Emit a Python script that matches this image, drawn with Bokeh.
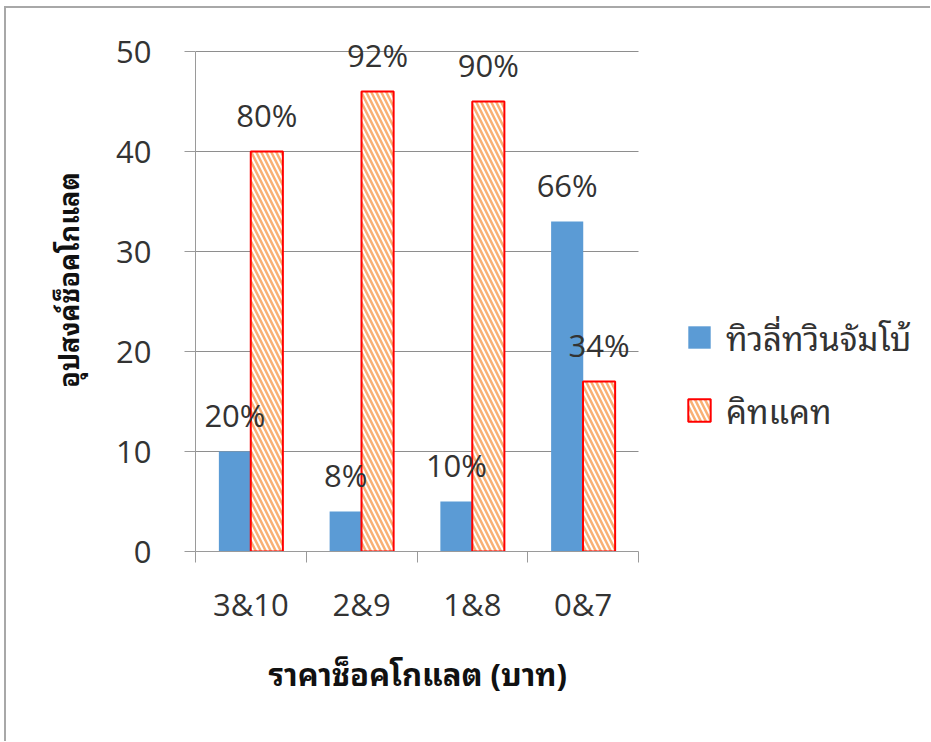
from bokeh.plotting import figure
from bokeh.models import (Range1d, LinearAxis, FixedTicker, Legend, LegendItem,
                          ColumnDataSource, Spacer, Title)
from bokeh.layouts import column, row
from bokeh.core.properties import value
from bokeh.embed import file_html
from bokeh.resources import INLINE

categories = ["3&10", "2&9", "1&8", "0&7"]
tulip_values = [10, 4, 5, 33]
kitkat_values = [40, 46, 45, 17]
tulip_labels = ["20%", "8%", "10%", "66%"]
kitkat_labels = ["80%", "92%", "90%", "34%"]
series_names = ["ทิวลี่ทวินจัมโบ้", "คิทแคท"]
y_ticks = [0, 10, 20, 30, 40, 50]
x_title = "ราคาช็อคโกแลต (บาท)"
y_title = "อุปสงค์ช็อคโกแลต"

THAI = "Noto Sans Thai Looped, Noto Sans Thai, Loma, Garuda, Open Sans, sans-serif"
LAT = "Open Sans"
GRAY = "#9a9a9a"
TXT = "#333333"
BAR_W = 0.29
OFF = 0.144
N = len(categories)

idx = list(range(N))
centers = [i + 0.5 for i in idx]
src = ColumnDataSource(dict(
    xb=[c - OFF for c in centers], xr=[c + OFF for c in centers],
    tulip=tulip_values, kitkat=kitkat_values, tl=tulip_labels, kl=kitkat_labels))

# plot area spans 4 categories on the left; extra room on the right holds the legend
p = figure(x_range=Range1d(0, N * 737 / 443), y_range=Range1d(0, 54.3),
           width=926, height=735, output_backend="svg", toolbar_location=None,
           x_axis_location=None, min_border_left=189, min_border_right=0,
           min_border_top=0, min_border_bottom=192)
p.outline_line_color = None
p.xgrid.visible = False
p.ygrid.visible = False

# horizontal gridlines over the category span only
p.segment(x0=0, x1=N, y0=y_ticks[1:], y1=y_ticks[1:], line_color="#8e8e8e", line_width=1)

ya = p.yaxis[0]
ya.ticker = FixedTicker(ticks=y_ticks)
ya.bounds = (0, 50)
ya.axis_line_color = GRAY
ya.major_tick_line_color = GRAY
ya.major_tick_out = 11
ya.major_tick_in = 0
ya.minor_tick_line_color = None
ya.major_label_text_font = LAT
ya.major_label_text_font_size = "31px"
ya.major_label_text_color = TXT
ya.major_label_standoff = 33
ya.axis_label = y_title
ya.axis_label_text_font = THAI
ya.axis_label_text_font_style = "bold"
ya.axis_label_text_font_size = "27px"
ya.axis_label_text_color = "#111111"
ya.axis_label_standoff = 25

xa = LinearAxis(ticker=FixedTicker(ticks=centers, minor_ticks=[float(i) for i in range(N + 1)]),
                major_label_overrides={c: name for c, name in zip(centers, categories)})
xa.bounds = (0, N)
xa.axis_line_color = GRAY
xa.major_tick_line_color = None
xa.major_tick_out = 11
xa.major_tick_in = 0
xa.minor_tick_line_color = GRAY
xa.minor_tick_out = 11
xa.minor_tick_in = 0
xa.major_label_text_font = LAT
xa.major_label_text_font_size = "31px"
xa.major_label_text_color = TXT
xa.major_label_standoff = 20
p.add_layout(xa, "below")

xt = Title(text=x_title, align="left", offset=73, standoff=34, text_font=THAI,
           text_font_style="bold", text_font_size="31px", text_color="#111111")
p.add_layout(xt, "below")

r1 = p.vbar(x="xb", top="tulip", width=BAR_W, source=src,
            fill_color="#5B9BD5", line_color=None)
r2 = p.vbar(x="xr", top="kitkat", width=BAR_W, source=src,
            fill_color="white", line_color="#FF0000", line_width=2,
            hatch_pattern="\\", hatch_color="#F79646", hatch_scale=10, hatch_weight=2.5,
            hatch_alpha=0.75)

p.text(x="xb", y="tulip", text="tl", source=src,
       text_font=value(LAT), text_font_size="31px", text_align="center",
       text_baseline="bottom", y_offset=-16, text_color=TXT)
p.text(x="xr", y="kitkat", text="kl", source=src,
       text_font=value(LAT), text_font_size="31px", text_align="center",
       text_baseline="bottom", y_offset=-16, text_color=TXT)

legend = Legend(items=[LegendItem(label=series_names[0], renderers=[r1]),
                       LegendItem(label=series_names[1], renderers=[r2])],
                location=(490, 115), glyph_width=28, glyph_height=28, label_height=28,
                spacing=20, padding=0, margin=0, border_line_color=None,
                background_fill_alpha=0, label_text_font=THAI, label_text_font_size="33px",
                label_standoff=13, label_text_color=TXT)
p.add_layout(legend)

p.styles = {"border-left": "2px solid #a8a8a8", "border-top": "2px solid #a8a8a8"}

layout = column(Spacer(height=6), row(Spacer(width=4), p))
open("out.html", "w").write(file_html(layout, INLINE))
